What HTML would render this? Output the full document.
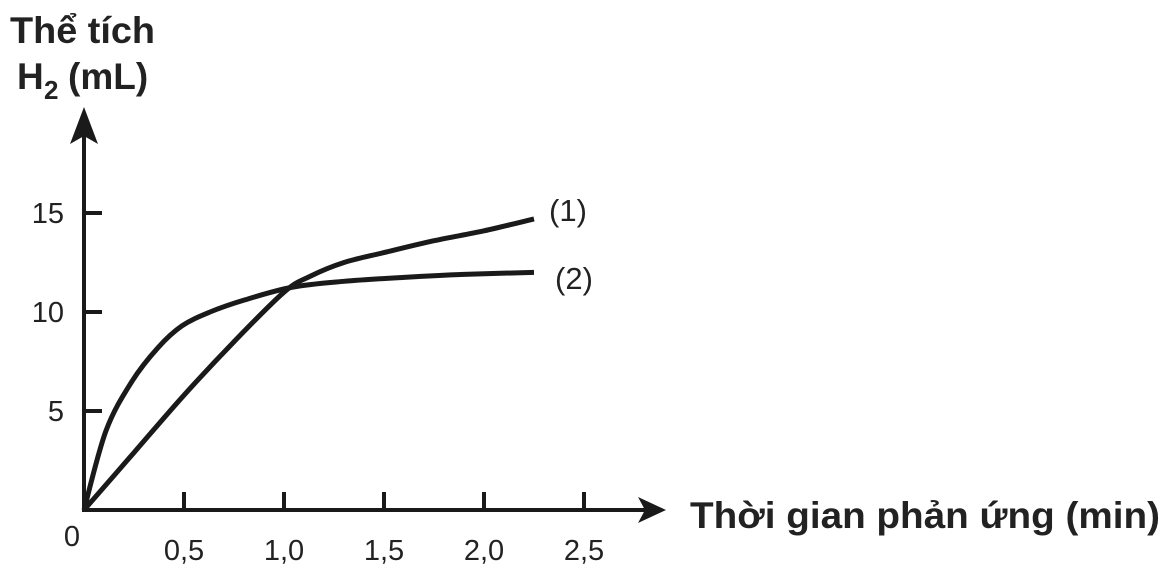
<!DOCTYPE html>
<html><head><meta charset="utf-8">
<style>
html,body{margin:0;padding:0;background:#fff;}
svg{display:block;}
text{font-family:"Liberation Sans",Arial,sans-serif;fill:#222;}
</style></head>
<body>
<svg id="chart" width="1164" height="565" viewBox="0 0 1164 565" xmlns="http://www.w3.org/2000/svg">
  <g>
    <text x="10" y="43" font-size="37" font-weight="bold" textLength="145" lengthAdjust="spacingAndGlyphs">Thể tích</text>
    <text x="17" y="89" font-size="37" font-weight="bold">H</text>
    <text x="44" y="99" font-size="26" font-weight="bold">2</text>
    <text x="68" y="89" font-size="37" font-weight="bold">(mL)</text>
  </g>
  <text x="690" y="528" font-size="37" font-weight="bold" textLength="470" lengthAdjust="spacingAndGlyphs">Thời gian phản ứng (min)</text>
  <g id="axes"></g>
  <g id="ticks"></g>
  <g id="series"></g>
  <text x="549" y="221" font-size="31">(1)</text>
  <text x="555" y="289" font-size="31">(2)</text>
</svg>
<script>
const xTicks = [0.5, 1.0, 1.5, 2.0, 2.5];
const xTickLabels = ["0,5", "1,0", "1,5", "2,0", "2,5"];
const yTicks = [5, 10, 15];
const yTickLabels = ["5", "10", "15"];
const xVals1 = [0, 0.25, 0.5, 0.75, 1.0, 1.13, 1.3, 1.5, 1.75, 2.0, 2.25];
const yVals1 = [0, 2.9, 5.8, 8.5, 11.0, 11.8, 12.5, 13.0, 13.6, 14.1, 14.7];
const xVals2 = [0, 0.11, 0.24, 0.37, 0.49, 0.63, 0.8, 1.04, 1.3, 1.6, 1.9, 2.25];
const yVals2 = [0, 4.0, 6.5, 8.2, 9.3, 10.0, 10.6, 11.25, 11.55, 11.75, 11.9, 12.0];

const NS = "http://www.w3.org/2000/svg";
const X0 = 84, Y0 = 510, PX_X = 200, PX_Y = 19.8;
function sx(v){ return X0 + v * PX_X; }
function sy(v){ return Y0 - v * PX_Y; }
function mk(tag, attrs, parent){
  const e = document.createElementNS(NS, tag);
  for (const k in attrs) e.setAttribute(k, attrs[k]);
  parent.appendChild(e);
  return e;
}
const axes = document.getElementById('axes');
const xa = mk('line', {x1: X0, y1: Y0, x2: 645, y2: Y0, stroke: '#1a1a1a', 'stroke-width': 4}, axes);


const xarr = mk('polygon', {points: '666,510 638,497 645,510 638,523', fill: '#1a1a1a'}, axes);


const ya = mk('line', {x1: X0, y1: Y0 + 2, x2: X0, y2: 128, stroke: '#1a1a1a', 'stroke-width': 4}, axes);


const yarr = mk('polygon', {points: '84,107 70,144 84,136 98,144', fill: '#1a1a1a'}, axes);



const ticks = document.getElementById('ticks');
xTicks.forEach((v, i) => {
  const t = mk('line', {x1: sx(v), y1: Y0, x2: sx(v), y2: Y0 - 18, stroke: '#1a1a1a', 'stroke-width': 4}, ticks);
  
  
  const l = mk('text', {x: sx(v), y: Y0 + 50, 'font-size': 29, 'text-anchor': 'middle'}, ticks);
  l.textContent = xTickLabels[i];
  
  
});
const zl = mk('text', {x: 72, y: Y0 + 36, 'font-size': 29, 'text-anchor': 'middle'}, ticks);
zl.textContent = "0";


yTicks.forEach((v, i) => {
  const t = mk('line', {x1: X0, y1: sy(v), x2: X0 + 18, y2: sy(v), stroke: '#1a1a1a', 'stroke-width': 4}, ticks);
  
  
  const l = mk('text', {x: 64, y: sy(v) + 10, 'font-size': 29, 'text-anchor': 'end'}, ticks);
  l.textContent = yTickLabels[i];
  
  
});

function smoothPath(xs, ys){
  const p = xs.map((x, i) => [sx(x), sy(ys[i])]);
  let d = 'M' + p[0][0] + ',' + p[0][1];
  for (let i = 0; i < p.length - 1; i++){
    const p0 = p[Math.max(0, i - 1)], p1 = p[i], p2 = p[i + 1], p3 = p[Math.min(p.length - 1, i + 2)];
    const c1x = p1[0] + (p2[0] - p0[0]) / 6, c1y = p1[1] + (p2[1] - p0[1]) / 6;
    const c2x = p2[0] - (p3[0] - p1[0]) / 6, c2y = p2[1] - (p3[1] - p1[1]) / 6;
    d += ' C' + c1x + ',' + c1y + ' ' + c2x + ',' + c2y + ' ' + p2[0] + ',' + p2[1];
  }
  return d;
}
const series = document.getElementById('series');
const c1 = mk('path', {d: smoothPath(xVals1, yVals1), fill: 'none', stroke: '#1a1a1a', 'stroke-width': 5, 'stroke-linejoin': 'round'}, series);


const c2 = mk('path', {d: smoothPath(xVals2, yVals2), fill: 'none', stroke: '#1a1a1a', 'stroke-width': 5, 'stroke-linejoin': 'round'}, series);


</script>
</body></html>
